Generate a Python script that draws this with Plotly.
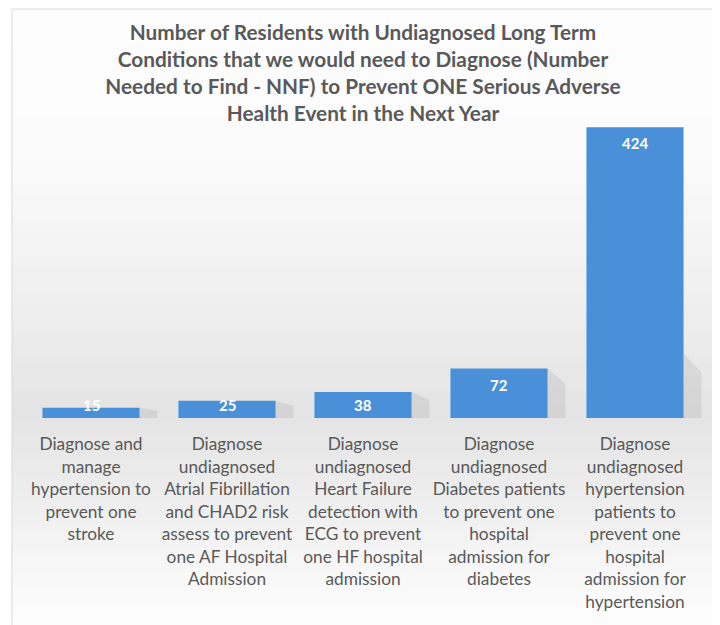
import plotly.graph_objects as go

categories = [
    "Diagnose and<br>manage<br>hypertension to<br>prevent one<br>stroke",
    "Diagnose<br>undiagnosed<br>Atrial Fibrillation<br>and CHAD2 risk<br>assess to prevent<br>one AF Hospital<br>Admission",
    "Diagnose<br>undiagnosed<br>Heart Failure<br>detection with<br>ECG to prevent<br>one HF hospital<br>admission",
    "Diagnose<br>undiagnosed<br>Diabetes patients<br>to prevent one<br>hospital<br>admission for<br>diabetes",
    "Diagnose<br>undiagnosed<br>hypertension<br>patients to<br>prevent one<br>hospital<br>admission for<br>hypertension",
]
values = [15, 25, 38, 72, 424]
title_text = ("Number of Residents with Undiagnosed Long Term<br>"
              "Conditions that we would need to Diagnose (Number<br>"
              "Needed to Find - NNF) to Prevent ONE Serious Adverse<br>"
              "Health Event in the Next Year")

# page has an 8px body margin; work in page pixels and convert
OFF = 8
W, H = 720 - OFF, 625 - OFF
PLOT_LEFT, PLOT_RIGHT, PLOT_TOP, PLOT_BOTTOM = 23, 703, 120, 418  # page px
L = PLOT_LEFT - OFF
R = W - (PLOT_RIGHT - OFF)
T = PLOT_TOP - OFF
B = H - (PLOT_BOTTOM - OFF)
plot_h = PLOT_BOTTOM - PLOT_TOP
plot_w = PLOT_RIGHT - PLOT_LEFT

def py_to_paper(py):
    return (PLOT_BOTTOM - py) / plot_h

def px_to_paper(px):
    return (px - PLOT_LEFT) / plot_w

FONT = "Lato"
GREY_TXT = "#595959"

fig = go.Figure()

# background gradient bands (page pixels)
stops = [(9, 253), (150, 251), (250, 243), (330, 236), (410, 228), (440, 231),
         (500, 238), (560, 246), (625, 253)]
def shade(py):
    for (a, ca), (b, cb) in zip(stops, stops[1:]):
        if a <= py <= b:
            t = (py - a) / (b - a)
            return int(round(ca + (cb - ca) * t))
    return 253

shapes = []
step = 6
py = 9
while py < 630:
    c = shade(py + step / 2)
    shapes.append(dict(type="rect", xref="paper", yref="paper",
                       x0=px_to_paper(12), x1=px_to_paper(713),
                       y0=py_to_paper(py + step), y1=py_to_paper(py),
                       line=dict(width=0), fillcolor=f"rgb({c},{c},{c})",
                       layer="below"))
    py += step
# border
shapes.append(dict(type="rect", xref="paper", yref="paper",
                   x0=px_to_paper(12), x1=px_to_paper(713),
                   y0=py_to_paper(640), y1=py_to_paper(9),
                   line=dict(color="#d9d9d9", width=1), fillcolor="rgba(0,0,0,0)",
                   layer="below"))

# soft shadows to the right of each bar
half = 0.357
for i, v in enumerate(values):
    h = min(v, 95)
    fig.add_trace(go.Scatter(
        x=[i + half, i + half, i + half + 0.13, i + half + 0.13],
        y=[0, h, h * 0.7, 0],
        fill="toself", mode="lines", line=dict(width=0),
        fillcolor="rgba(120,120,120,0.14)", hoverinfo="skip", showlegend=False))

fig.add_trace(go.Bar(
    x=list(range(len(values))), y=values,
    marker=dict(color="#4a90d9", line=dict(width=0)),
    width=0.714, showlegend=False, hoverinfo="skip"))

annotations = []
for i, v in enumerate(values):
    annotations.append(dict(x=i, y=max(v, 43), xref="x", yref="y", text=f"<b>{v}</b>",
                            showarrow=False, yanchor="middle", yshift=-16,
                            font=dict(family=FONT, size=15, color="white")))

fig.update_layout(
    width=W, height=H,
    margin=dict(l=L, r=R, t=T, b=B, autoexpand=False),
    paper_bgcolor="white", plot_bgcolor="rgba(0,0,0,0)",
    title=dict(text=f"<b>{title_text}</b>", x=0.5, xanchor="center",
               xref="paper", yref="container", y=1 - (39.5 - OFF) / H, yanchor="top",
               font=dict(family=FONT, size=20.8, color=GREY_TXT)),
    shapes=shapes, annotations=annotations,
    xaxis=dict(tickmode="array", tickvals=list(range(len(values))), ticktext=categories,
               range=[-0.5, len(values) - 0.5], showgrid=False, zeroline=False,
               showline=False, ticks="", ticklen=0, automargin=False,
               ticklabelstandoff=14,
               tickfont=dict(family=FONT, size=17.3, color=GREY_TXT)),
    yaxis=dict(range=[0, plot_h / 0.686], visible=False, showgrid=False,
               zeroline=False, automargin=False),
    bargap=0.29,
)

fig.write_html("out.html")
